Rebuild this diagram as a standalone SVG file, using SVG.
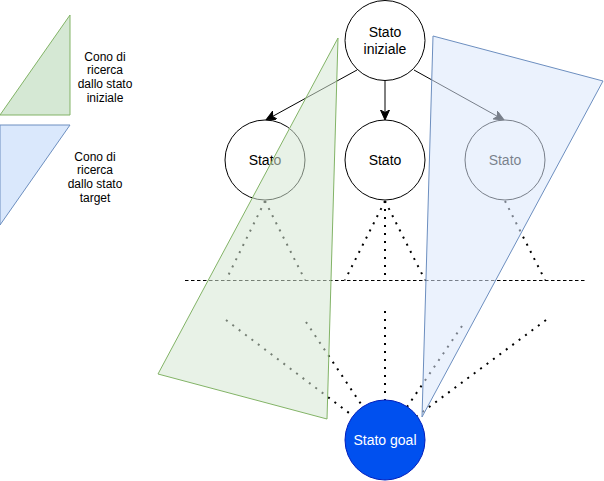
<svg xmlns="http://www.w3.org/2000/svg" width="604" height="481" viewBox="0 0 604 481">
<defs>
<marker id="arr" markerWidth="12" markerHeight="10" refX="10" refY="4.5" orient="auto" markerUnits="userSpaceOnUse">
<path d="M0,0 L10,4.5 L0,9 L2.5,4.5 Z" fill="#000" stroke="#000" stroke-width="1"/>
</marker>
<style>
.node{fill:#fff;stroke:#000;stroke-width:1}
.lbl{font-family:"Liberation Sans",Arial,sans-serif;font-size:14px;fill:#000;text-anchor:middle}
.leg{font-family:"Liberation Sans",Arial,sans-serif;font-size:12px;fill:#000;text-anchor:middle}
.edge{stroke:#000;stroke-width:1;fill:none}
.dot{stroke:#000;stroke-width:2;fill:none;stroke-dasharray:2 6}
.dash{stroke:#000;stroke-width:1;fill:none;stroke-dasharray:3.5 2.5}
</style>
</defs>

<g id="legend-green">
<polygon points="70,15 0,115 70,115" fill="#d5e8d4" stroke="#82b366"/>
<text class="leg"><tspan x="105" y="60.5">Cono di</tspan><tspan x="105" y="74.2">ricerca</tspan><tspan x="105" y="87.9">dallo stato</tspan><tspan x="105" y="101.6">iniziale</tspan></text>
</g>
<g id="legend-blue">
<polygon points="0,125 70,125 0,225" fill="#dae8fc" stroke="#6c8ebf"/>
<text class="leg"><tspan x="95" y="160.5">Cono di</tspan><tspan x="95" y="174.2">ricerca</tspan><tspan x="95" y="187.9">dallo stato</tspan><tspan x="95" y="201.6">target</tspan></text>
</g>

<g id="connectors">
<line class="edge" x1="357" y1="70" x2="266" y2="120" marker-end="url(#arr)"/>
<line class="edge" x1="385" y1="81" x2="385" y2="120" marker-end="url(#arr)"/>
<line class="edge" x1="414" y1="70" x2="504" y2="120" marker-end="url(#arr)"/>
<line class="dash" x1="185" y1="280.5" x2="585" y2="280.5"/>
<line class="dot" x1="265" y1="201" x2="226" y2="280"/>
<line class="dot" x1="265" y1="201" x2="305" y2="280"/>
<line class="dot" x1="385" y1="201" x2="345" y2="280"/>
<line class="dot" x1="385" y1="201" x2="385" y2="280"/>
<line class="dot" x1="385" y1="201" x2="425" y2="280"/>
<line class="dot" x1="505" y1="201" x2="545" y2="280"/>
<line class="dot" x1="226" y1="320" x2="353" y2="416"/>
<line class="dot" x1="306" y1="322" x2="363" y2="407"/>
<line class="dot" x1="385" y1="311" x2="385" y2="400"/>
<line class="dot" x1="462" y1="326" x2="407" y2="407"/>
<line class="dot" x1="546" y1="320" x2="417" y2="416"/>
</g>

<g id="node-start">
<circle class="node" cx="385" cy="40.5" r="40"/>
<text class="lbl"><tspan x="385" y="37">Stato</tspan><tspan x="385" y="54">iniziale</tspan></text>
</g>
<g id="node-left">
<circle class="node" cx="265" cy="160" r="40"/>
<text class="lbl" x="265" y="165">Stato</text>
</g>
<g id="node-mid">
<circle class="node" cx="385" cy="160" r="40"/>
<text class="lbl" x="385" y="165">Stato</text>
</g>
<g id="node-right">
<circle class="node" cx="505" cy="160" r="40"/>
<text class="lbl" x="505" y="165">Stato</text>
</g>
<g id="node-goal">
<circle cx="385" cy="440" r="40" fill="#0050ef" stroke="#001dbc"/>
<text class="lbl" x="385" y="445" style="fill:#fff">Stato goal</text>
</g>

<g id="cone-start">
<polygon points="338,38 158,374 327,419" fill="#d5e8d4" fill-opacity="0.55" stroke="#82b366" stroke-width="1"/>
</g>
<g id="cone-target">
<polygon points="433,36 603,81 422,417" fill="#dae8fc" fill-opacity="0.55" stroke="#6c8ebf" stroke-width="1"/>
</g>
</svg>
